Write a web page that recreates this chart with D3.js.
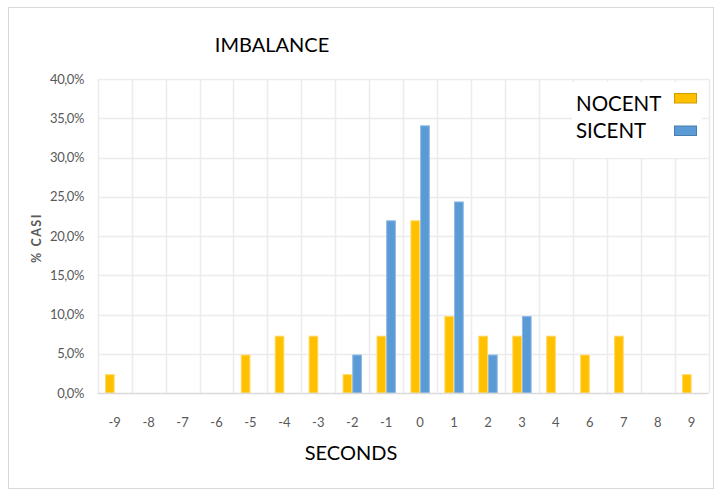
<!DOCTYPE html>
<html><head><meta charset="utf-8">
<script src="https://cdn.jsdelivr.net/npm/d3@7"></script>
<style>body{margin:0;background:#fff}svg{display:block}</style>
</head><body>
<script>
const categories = ["-9","-8","-7","-6","-5","-4","-3","-2","-1","0","1","2","3","4","6","7","8","9"];
const nocent = [2.4,0,0,0,4.9,7.3,7.3,2.4,7.3,22.0,9.8,7.3,7.3,7.3,4.9,7.3,0,2.4];
const sicent = [0,0,0,0,0,0,0,4.9,22.0,34.1,24.4,4.9,9.8,0,0,0,0,0];
const seriesNames = ["NOCENT","SICENT"];
const yTicks = [0,5,10,15,20,25,30,35,40];

(function(){
const W=714,H=489;
const colors={NOCENT:"#FFC000",SICENT:"#5B9BD5"};
const strokes={NOCENT:"#FFD966",SICENT:"#8DB8E4"};
const svg=d3.select("body").append("svg").attr("width",W).attr("height",H);
svg.append("rect").attr("x",8.5).attr("y",7.5).attr("width",W-9).attr("height",H-8).attr("fill","#fff").attr("stroke","#d9d9d9");

const pL=97.7,pR=708.6,pT=79,pB=393;
const x=d3.scaleBand().domain(categories).range([pL,pR]).paddingInner(0).paddingOuter(0);
const y=d3.scaleLinear().domain([0,40]).range([pB,pT]);
const inner=d3.scaleBand().domain(seriesNames).range([0,x.bandwidth()]).paddingInner(0).paddingOuter(0.75);

const g=svg.append("g");
g.selectAll(".hg").data(yTicks.filter(d=>d>0)).enter().append("line")
 .attr("x1",pL).attr("x2",pR).attr("y1",d=>Math.round(y(d))+0.5).attr("y2",d=>Math.round(y(d))+0.5)
 .attr("stroke","#ececec").attr("stroke-width",1.5);
const bounds=categories.map(c=>x(c)).concat([pR]);
g.selectAll(".vg").data(bounds).enter().append("line")
 .attr("x1",d=>Math.round(d)+0.5).attr("x2",d=>Math.round(d)+0.5).attr("y1",pT).attr("y2",pB)
 .attr("stroke","#ececec").attr("stroke-width",1.5);

const data=[];
categories.forEach((c,i)=>{data.push({c,s:"NOCENT",v:nocent[i]});data.push({c,s:"SICENT",v:sicent[i]});});
svg.append("g").selectAll("rect").data(data.filter(d=>d.v>0)).enter().append("rect")
 .attr("x",d=>x(d.c)+inner(d.s)+0.5).attr("width",inner.bandwidth()-1)
 .attr("y",d=>y(d.v)+0.5).attr("height",d=>y(0)-y(d.v)-0.5)
 .attr("fill",d=>colors[d.s]).attr("stroke",d=>strokes[d.s]).attr("stroke-width",1);

svg.append("line").attr("x1",pL).attr("x2",pR).attr("y1",pB+0.5).attr("y2",pB+0.5).attr("stroke","#d9d9d9").attr("stroke-width",1.5);

const fmt=d=>d.toFixed(1).replace(".",",")+"%";
svg.append("g").selectAll("text").data(yTicks).enter().append("text")
 .attr("x",84).attr("y",d=>y(d)+4.5).attr("text-anchor","end")
 .attr("font-family","Lato, 'Liberation Sans', sans-serif").attr("font-size",13).attr("fill","#595959")
 .attr("letter-spacing","-0.4").text(fmt);

svg.append("g").selectAll("text").data(categories).enter().append("text")
 .attr("x",d=>x(d)+x.bandwidth()/2).attr("y",427).attr("text-anchor","middle")
 .attr("font-family","Lato, 'Liberation Sans', sans-serif").attr("font-size",13).attr("fill","#595959").text(d=>d);

svg.append("text").attr("x",272).attr("y",52).attr("text-anchor","middle")
 .attr("font-family","Lato, 'Liberation Sans', sans-serif").attr("font-size",20).attr("fill","#000").text("IMBALANCE");
svg.append("text").attr("x",351).attr("y",460).attr("text-anchor","middle")
 .attr("font-family","Lato, 'Liberation Sans', sans-serif").attr("font-size",20).attr("fill","#000").text("SECONDS");
svg.append("text").attr("transform","translate(41,238) rotate(-90)").attr("text-anchor","middle")
 .attr("font-family","Lato, 'Liberation Sans', sans-serif").attr("font-size",12.5).attr("font-weight","bold")
 .attr("letter-spacing","1.5").attr("fill","#595959").text("% CASI");

const lg=svg.append("g");
lg.append("rect").attr("x",572).attr("y",82).attr("width",130).attr("height",76).attr("fill","#fff");
seriesNames.forEach((s,i)=>{
  lg.append("text").attr("x",576).attr("y",110.5+i*27).attr("font-family","Lato, 'Liberation Sans', sans-serif")
    .attr("font-size",20.5).attr("fill","#000").text(s);
  lg.append("rect").attr("x",674.5).attr("y",93.5+i*32.5).attr("width",22).attr("height",9.5)
    .attr("fill",colors[s]).attr("stroke",d3.color(colors[s]).darker(0.6)).attr("stroke-width",1);
});
})();
</script>
</body></html>
